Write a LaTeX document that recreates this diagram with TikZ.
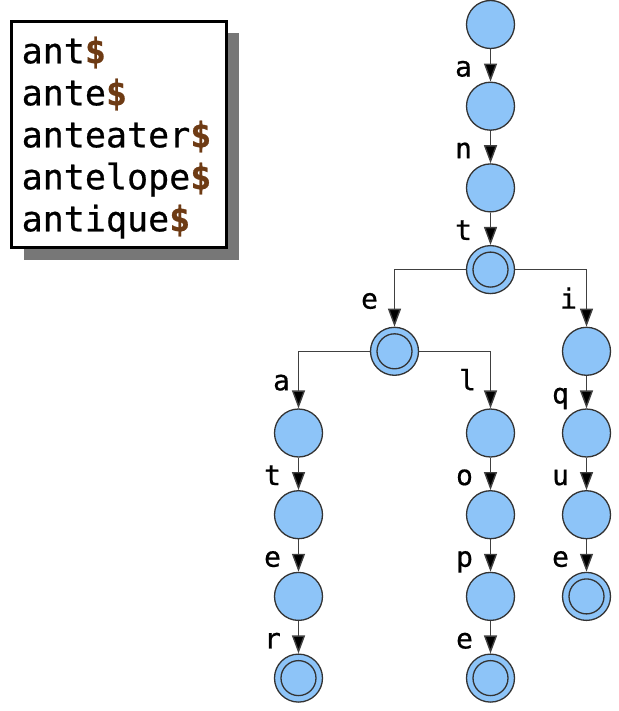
\documentclass[tikz,border=0pt]{standalone}
\usepackage{fontspec}
\newfontfamily\monofam[FakeBold=0.6]{DejaVu Sans Mono}
\usetikzlibrary{arrows.meta,shadows,calc}
\definecolor{nodefill}{HTML}{8DC4F8}
\definecolor{nodeline}{HTML}{333333}
\definecolor{edgeline}{HTML}{404040}
\definecolor{dollar}{HTML}{6E3B14}
\definecolor{shadowgray}{HTML}{777777}
\newcommand{\dol}{\textcolor{dollar}{\bfseries\$}}
\tikzset{
  state/.style={circle, minimum size=48pt, inner sep=0pt, fill=nodefill, draw=nodeline, line width=1.3pt},
  accept/.style={path picture={\draw[nodeline, line width=1.3pt] (path picture bounding box.center) circle (17.5pt);}},
  edge/.style={draw=edgeline, line width=1.4pt, -{Triangle[length=18pt,width=13pt,fill=black]}},
  lbl/.style={anchor=base, inner sep=0pt, font=\monofam\fontsize{28}{28}\selectfont},
  word/.style={anchor=base west, inner sep=0pt, font=\monofam\fontsize{35}{42}\selectfont},
  wordbox/.style={draw=black, line width=3pt, fill=white, minimum width=215pt, minimum height=226pt, inner sep=0pt,
    drop shadow={shadow xshift=12pt, shadow yshift=-12pt, fill=shadowgray, opacity=1}}
}
\begin{document}
\begin{tikzpicture}[x=1pt,y=-1pt]
\useasboundingbox (0,0) rectangle (618,711);
% word list box
\node[wordbox] (box) at (119,134.5) {};
\node[word] (w1) at (21.5,63.3) {ant\dol};
\node[word] (w2) at (21.5,105.3) {ante\dol};
\node[word] (w3) at (21.5,147.3) {anteater\dol};
\node[word] (w4) at (21.5,189.3) {antelope\dol};
\node[word] (w5) at (21.5,231.3) {antique\dol};
% trie nodes
\node[state] (r)  at (490.5,24.5) {};
\node[state] (a1) at (490.5,106.2) {};
\node[state] (n1) at (490.5,187.9) {};
\node[state,accept] (t1) at (490.5,269.6) {};
\node[state,accept] (e1) at (394.5,351.3) {};
\node[state] (i1) at (586.5,351.3) {};
\node[state] (a2) at (298.5,433) {};
\node[state] (t2) at (298.5,514.7) {};
\node[state] (e2) at (298.5,596.4) {};
\node[state,accept] (r2) at (298.5,678.1) {};
\node[state] (l1) at (490.5,433) {};
\node[state] (o1) at (490.5,514.7) {};
\node[state] (p1) at (490.5,596.4) {};
\node[state,accept] (e3) at (490.5,678.1) {};
\node[state] (q1) at (586.5,433) {};
\node[state] (u1) at (586.5,514.7) {};
\node[state,accept] (e4) at (586.5,596.4) {};
% edges
\draw[edge] (r) -- (a1);
\draw[edge] (a1) -- (n1);
\draw[edge] (n1) -- (t1);
\draw[edge] (t1) -| (e1);
\draw[edge] (t1) -| (i1);
\draw[edge] (e1) -| (a2);
\draw[edge] (e1) -| (l1);
\draw[edge] (a2) -- (t2);
\draw[edge] (t2) -- (e2);
\draw[edge] (e2) -- (r2);
\draw[edge] (l1) -- (o1);
\draw[edge] (o1) -- (p1);
\draw[edge] (p1) -- (e3);
\draw[edge] (i1) -- (q1);
\draw[edge] (q1) -- (u1);
\draw[edge] (u1) -- (e4);
% edge labels
\node[lbl] (la1) at ($(a1.north)+(-27,-5)$) {a};
\node[lbl] (ln1) at ($(n1.north)+(-27,-5)$) {n};
\node[lbl] (lt1) at ($(t1.north)+(-27,-5)$) {t};
\node[lbl] (le1) at ($(e1.north)+(-25,-18)$) {e};
\node[lbl] (li1) at ($(i1.north)+(-18,-18)$) {i};
\node[lbl] (la2) at ($(a2.north)+(-17,-18)$) {a};
\node[lbl] (ll1) at ($(l1.north)+(-23,-18)$) {l};
\node[lbl] (lt2) at ($(t2.north)+(-26,-5)$) {t};
\node[lbl] (le2) at ($(e2.north)+(-26,-5)$) {e};
\node[lbl] (lr2) at ($(r2.north)+(-26,-5)$) {r};
\node[lbl] (lo1) at ($(o1.north)+(-26,-5)$) {o};
\node[lbl] (lp1) at ($(p1.north)+(-26,-5)$) {p};
\node[lbl] (le3) at ($(e3.north)+(-26,-5)$) {e};
\node[lbl] (lq1) at ($(q1.north)+(-26,-5)$) {q};
\node[lbl] (lu1) at ($(u1.north)+(-26,-5)$) {u};
\node[lbl] (le4) at ($(e4.north)+(-26,-5)$) {e};
\end{tikzpicture}
\end{document}
